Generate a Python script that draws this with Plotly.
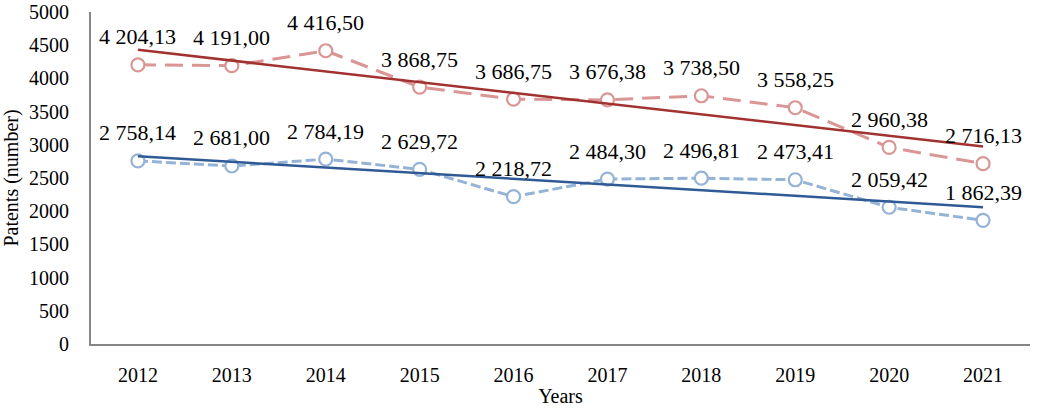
import numpy as np
import plotly.graph_objects as go

years = ["2012", "2013", "2014", "2015", "2016", "2017", "2018", "2019", "2020", "2021"]
red_values = [4204.13, 4191.00, 4416.50, 3868.75, 3686.75, 3676.38, 3738.50, 3558.25, 2960.38, 2716.13]
blue_values = [2758.14, 2681.00, 2784.19, 2629.72, 2218.72, 2484.30, 2496.81, 2473.41, 2059.42, 1862.39]
y_ticks = [0, 500, 1000, 1500, 2000, 2500, 3000, 3500, 4000, 4500, 5000]

xpos = list(range(len(years)))


def fmt(v):
    s = f"{v:,.2f}"
    return s.replace(",", " ").replace(".", ",")


def trend(vals):
    x = np.arange(len(vals))
    k, b = np.polyfit(x, vals, 1)
    return [float(t) for t in (k * x + b)]


FONT = "Liberation Serif"
RED_L, RED_D = "#D99694", "#A2322F"
BLUE_L, BLUE_D = "#95B3D7", "#2F5A95"

fig = go.Figure()
fig.add_trace(go.Scatter(
    x=xpos, y=red_values, mode="lines+markers",
    line=dict(color=RED_L, width=3, dash="18px,9px"),
    marker=dict(symbol="circle", size=13, color="white", line=dict(color=RED_L, width=2.2)),
    showlegend=False))
fig.add_trace(go.Scatter(
    x=xpos, y=blue_values, mode="lines+markers",
    line=dict(color=BLUE_L, width=3, dash="10px,4px"),
    marker=dict(symbol="circle", size=13, color="white", line=dict(color=BLUE_L, width=2.2)),
    showlegend=False))
fig.add_trace(go.Scatter(x=xpos, y=trend(red_values), mode="lines",
                         line=dict(color=RED_D, width=2.5), showlegend=False))
fig.add_trace(go.Scatter(x=xpos, y=trend(blue_values), mode="lines",
                         line=dict(color=BLUE_D, width=2.5), showlegend=False))

for vals in (red_values, blue_values):
    for xi, v in zip(xpos, vals):
        fig.add_annotation(x=xi, y=v, text=fmt(v), showarrow=False, yshift=28,
                           font=dict(family=FONT, size=22, color="black"))

fig.update_layout(
    width=1037, height=413,
    margin=dict(l=91, r=7, t=12, b=69, autoexpand=False),
    paper_bgcolor="white", plot_bgcolor="white",
    font=dict(family=FONT, size=20, color="black"),
)
fig.update_xaxes(
    range=[-0.5, 9.5], tickvals=xpos, ticktext=years, showline=True,
    linecolor="#868686", linewidth=2, showgrid=False, zeroline=False, ticks="",
    ticklabelstandoff=12, automargin=False, tickfont=dict(family=FONT, size=20),
    title=dict(text="Years", font=dict(family=FONT, size=20), standoff=4),
)
fig.update_yaxes(
    range=[0, 5000], tickvals=y_ticks, showline=True, linecolor="#868686", linewidth=2,
    showgrid=False, ticks="", zeroline=False, ticklabelstandoff=16, automargin=False,
    tickfont=dict(family=FONT, size=20),
    title=dict(text="Patents (number)", font=dict(family=FONT, size=20), standoff=5),
)
fig.write_html(
    "out.html",
    config={"displayModeBar": False},
    post_script="document.body.style.margin='0';document.body.style.overflow='hidden';",
)
